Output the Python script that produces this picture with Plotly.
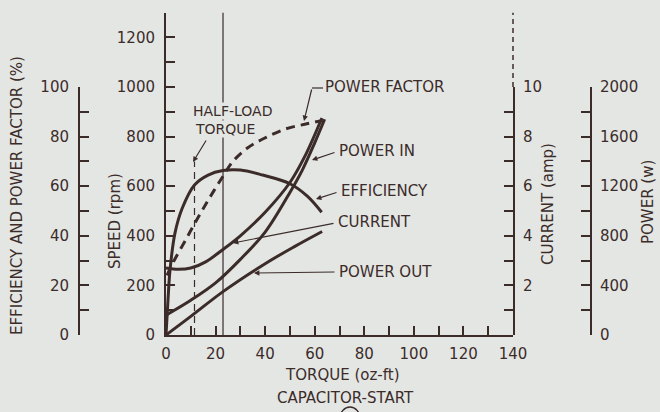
import plotly.graph_objects as go

# ---- data: motor performance vs. load torque (oz-ft) ----
eff_torque = [0, 0.8, 1.6, 3.6, 6.5, 11.5, 17, 23, 30, 39, 50, 57, 62.8]
eff_pct = [0, 14, 26, 41, 51, 60.5, 64.5, 66.3, 66.5, 64.5, 61, 56, 49.5]

pf_torque = [0.4, 3, 8, 13, 18, 23, 27, 33, 40, 48, 56, 63.3]
pf_pct = [24, 29.5, 38.5, 47.5, 56, 64, 70, 75.5, 79.5, 83, 85, 86.5]

cur_torque = [0, 5, 10, 16, 23, 30, 40, 50, 56, 62.9]
cur_amp = [2.7, 2.65, 2.7, 2.95, 3.45, 4.0, 4.95, 6.15, 7.2, 8.75]

pin_torque = [0, 10, 20, 30, 40, 50, 55, 60, 64]
pin_watt = [160, 280, 420, 610, 830, 1150, 1330, 1550, 1740]

pout_torque = [0, 10, 23, 40, 52, 63]
pout_watt = [0, 150, 350, 575, 715, 835]

half_load_torque = 11.5
full_load_torque = 23

torque_range = [0, 140]
speed_range = [0, 1300]
pct_range = [0, 100]
amp_range = [0, 10]
watt_range = [0, 2000]

# ---- styling ----
W, H = 660, 412
BG = "#e4e6e3"
INK = "#3b2c2a"
FONT = "DejaVu Sans"


def px(x):
    return x / W


def py(y):
    return 1 - y / H


X_DOM = [px(166), px(513)]
SPEED_DOM = [py(335), py(12.6)]
SCALE_DOM = [py(335), py(87)]

tickfont = dict(family=FONT, size=15, color=INK)
axis_common = dict(
    showline=True, linewidth=2, linecolor=INK,
    ticks="inside", ticklen=9, tickwidth=2, tickcolor=INK,
    showgrid=False, zeroline=False, tickfont=tickfont,
    fixedrange=True, automargin=False,
)
minor_common = dict(ticks="inside", ticklen=9, tickwidth=2, tickcolor=INK)

fig = go.Figure()

curve = dict(mode="lines", hoverinfo="skip", showlegend=False)

fig.add_trace(go.Scatter(x=eff_torque, y=eff_pct, xaxis="x", yaxis="y2",
                         line=dict(color=INK, width=3, shape="spline"), **curve))
fig.add_trace(go.Scatter(x=pf_torque, y=pf_pct, xaxis="x", yaxis="y2",
                         line=dict(color=INK, width=3, shape="spline", dash="9px,6px"), **curve))
fig.add_trace(go.Scatter(x=cur_torque, y=cur_amp, xaxis="x", yaxis="y3",
                         line=dict(color=INK, width=3, shape="spline"), **curve))
fig.add_trace(go.Scatter(x=pin_torque, y=pin_watt, xaxis="x", yaxis="y4",
                         line=dict(color=INK, width=3, shape="spline"), **curve))
fig.add_trace(go.Scatter(x=pout_torque, y=pout_watt, xaxis="x", yaxis="y4",
                         line=dict(color=INK, width=3, shape="spline"), **curve))

# full-load and half-load torque markers
fig.add_trace(go.Scatter(x=[full_load_torque, full_load_torque], y=[0, 1300],
                         xaxis="x", yaxis="y", line=dict(color=INK, width=1.2), **curve))
fig.add_trace(go.Scatter(x=[half_load_torque, half_load_torque], y=[0, 700],
                         xaxis="x", yaxis="y", line=dict(color=INK, width=1.2, dash="7px,5px"), **curve))

fig.update_layout(
    width=W, height=H, autosize=False,
    margin=dict(l=0, r=0, t=0, b=0, pad=0, autoexpand=False),
    paper_bgcolor=BG, plot_bgcolor="rgba(0,0,0,0)",
    showlegend=False,
    xaxis=dict(domain=X_DOM, range=torque_range, anchor="y", dtick=20, tick0=0,
               minor=dict(dtick=10, **minor_common),
               ticklabelstandoff=4, **axis_common),
    yaxis=dict(domain=SPEED_DOM, range=speed_range, anchor="x", side="left",
               dtick=200, tick0=0, minor=dict(dtick=100, **minor_common),
               ticklabelstandoff=6, **axis_common),
    yaxis2=dict(domain=SCALE_DOM, range=pct_range, anchor="free", position=px(79),
                side="left", dtick=20, tick0=0, minor=dict(dtick=10, **minor_common),
                ticklabelstandoff=6, **axis_common),
    yaxis3=dict(domain=SCALE_DOM, range=amp_range, anchor="x", side="right",
                tickvals=[0, 2, 4, 6, 8, 10], ticktext=["", "2", "4", "6", "8", "10"],
                minor=dict(tickmode="linear", tick0=0, dtick=1, **minor_common),
                ticklabelstandoff=5, **axis_common),
    yaxis4=dict(domain=SCALE_DOM, range=watt_range, anchor="free", position=px(591),
                side="right", dtick=400, tick0=0, minor=dict(dtick=200, **minor_common),
                ticklabelstandoff=5, **axis_common),
)

# dashed extension of the current scale above 10 A
fig.add_shape(type="line", xref="paper", yref="y", x0=X_DOM[1], x1=X_DOM[1],
              y0=1000, y1=1300, line=dict(color=INK, width=1.5, dash="5px,4px"))
# elbow of the power-factor leader
fig.add_shape(type="line", xref="paper", yref="paper", x0=px(323), x1=px(312),
              y0=py(88), y1=py(88), line=dict(color=INK, width=1.2))
# circled figure mark at the foot of the page
fig.add_shape(type="circle", xref="paper", yref="paper", x0=px(340), x1=px(360),
              y0=py(430), y1=py(407), line=dict(color=INK, width=1.5))

lab = dict(family=FONT, size=15, color=INK)


def label(text, x, y, anchor="left", font=lab, **kw):
    fig.add_annotation(text=text, x=px(x), y=py(y), xref="paper", yref="paper",
                       xanchor=anchor, yanchor="middle", showarrow=False,
                       font=font, **kw)


def leader(tail, tip, width=1.2):
    fig.add_annotation(text="", x=px(tip[0]), y=py(tip[1]), xref="paper", yref="paper",
                       ax=tail[0] - tip[0], ay=tail[1] - tip[1], axref="pixel", ayref="pixel",
                       showarrow=True, arrowhead=2, arrowsize=0.9, arrowwidth=width,
                       arrowcolor=INK)


label("POWER FACTOR", 323, 87)
label("POWER IN", 337, 151)
label("EFFICIENCY", 339, 191)
label("CURRENT", 336, 222)
label("POWER OUT", 337, 272)
# the two caption lines mask the full-load marker where they cross it
cap = dict(family=FONT, size=14, color=INK)
label("HALF-LOAD", 192, 111, font=cap, bgcolor=BG, borderpad=0)
label("TORQUE", 194, 129, font=cap, bgcolor=BG, borderpad=0)

leader((312, 88), (304, 121))
leader((336, 152), (312, 160))
leader((338, 192), (316, 199))
leader((335, 223), (233, 243))
leader((336, 272), (254, 273))
leader((207, 139), (193, 162))

# axis titles
label("EFFICIENCY AND POWER FACTOR (%)", 17, 196, anchor="center", textangle=-90)
label("SPEED (rpm)", 115, 221, anchor="center", textangle=-90)
label("CURRENT (amp)", 548, 204, anchor="center", textangle=-90)
label("POWER (w)", 648, 202, anchor="center", textangle=-90)
label("TORQUE (oz-ft)", 342, 375, anchor="center")
label("CAPACITOR-START", 345, 398, anchor="center")

fig.write_html("out.html")
